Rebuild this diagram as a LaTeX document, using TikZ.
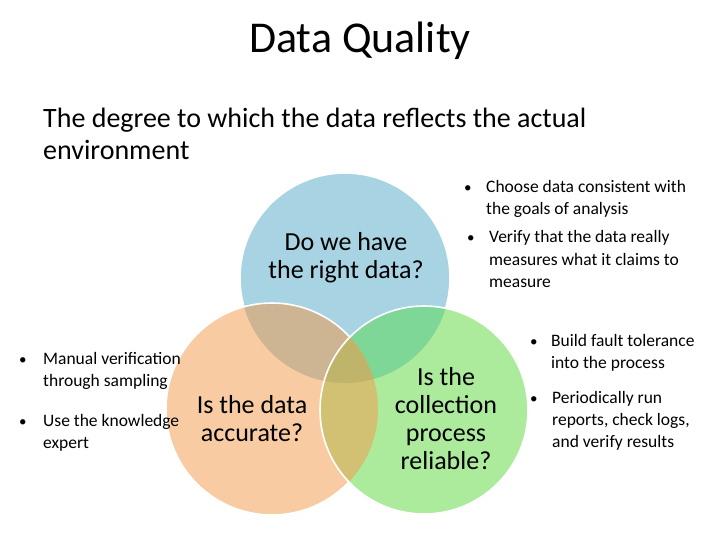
\documentclass[tikz,border=0pt]{standalone}
\usepackage{fontspec}
\setmainfont{Carlito}
\definecolor{blueC}{RGB}{167,211,226}
\definecolor{orangeC}{RGB}{248,203,163}
\definecolor{greenC}{RGB}{172,234,156}
\definecolor{boC}{RGB}{205,181,147}
\definecolor{bgC}{RGB}{126,215,150}
\definecolor{ogC}{RGB}{210,193,115}
\definecolor{bogC}{RGB}{192,180,106}
\newcommand\llines[1]{\begin{tabular}[t]{@{}l@{}}#1\end{tabular}}
\newcommand\clines[1]{\begin{tabular}[t]{@{}c@{}}#1\end{tabular}}
\begin{document}
\begin{tikzpicture}[x=1pt,y=-1pt,
  ring/.style={draw=white,line width=1.6pt},
  btext/.style={anchor=base west,inner sep=0pt,font=\fontsize{17.5}{22}\selectfont},
  bdot/.style={anchor=base west,inner sep=0pt,font=\fontsize{15}{22}\selectfont},
  qtext/.style={anchor=base,inner sep=0pt,font=\fontsize{26}{28}\selectfont}]
\useasboundingbox (0,0) rectangle (720,540);
\coordinate (B) at (345,278);
\coordinate (O) at (272,409);
\coordinate (G) at (424,410);
% blue
\fill[blueC] (B) circle (105);
\draw[ring] (B) circle (105);
% orange
\fill[orangeC] (O) circle (106);
\begin{scope}\clip (B) circle (105); \fill[boC] (O) circle (106);\end{scope}
\draw[ring] (O) circle (106);
% green
\fill[greenC] (G) circle (104);
\begin{scope}\clip (B) circle (105); \fill[bgC] (G) circle (104);\end{scope}
\begin{scope}\clip (O) circle (106); \fill[ogC] (G) circle (104);
  \clip (B) circle (105); \fill[bogC] (G) circle (104);\end{scope}
\draw[ring] (G) circle (104);
% titles
\node[anchor=base,inner sep=0pt,font=\fontsize{44}{50}\selectfont] (title) at (360,53) {Data Quality};
\node[anchor=base west,inner sep=0pt,font=\fontsize{28}{32}\selectfont] (sub) at (43,128)
  {\llines{The degree to which the data reflects the actual\\environment}};
% circle questions
\node[qtext] (q1) at (346,251) {\clines{Do we have\\the right data?}};
\node[qtext] (q2) at (252,413) {\clines{Is the data\\accurate?}};
\node[qtext] (q3) at (446,385) {\clines{Is the\\collection\\process\\reliable?}};
% bullets top right
\node[bdot] (d1) at (464,193) {•};
\node[btext] (t1) at (486,193) {\llines{Choose data consistent with\\the goals of analysis}};
\node[bdot] (d2) at (467,243) {•};
\node[btext] (t2) at (489,243) {\llines{Verify that the data really\\measures what it claims to\\measure}};
% bullets right
\node[bdot] (d3) at (530,346) {•};
\node[btext] (t3) at (551,346) {\llines{Build fault tolerance\\into the process}};
\node[bdot] (d4) at (530,403) {•};
\node[btext] (t4) at (552,403) {\llines{Periodically run\\reports, check logs,\\and verify results}};
% bullets left
\node[bdot] (d5) at (19,364) {•};
\node[btext] (t5) at (43,364) {\llines{Manual verification\\through sampling}};
\node[bdot] (d6) at (19,426) {•};
\node[btext] (t6) at (43,426) {\llines{Use the knowledge\\expert}};
\end{tikzpicture}
\end{document}
